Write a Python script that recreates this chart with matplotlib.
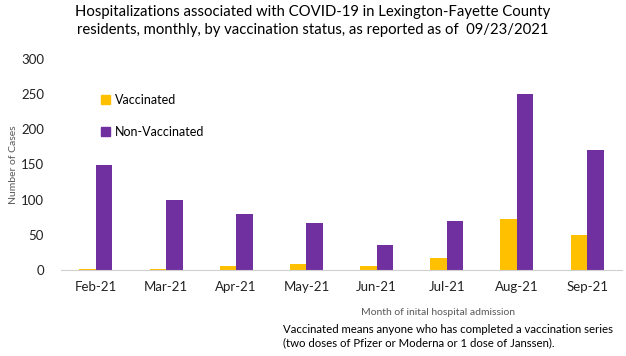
import numpy as np
import matplotlib.pyplot as plt
from matplotlib.patches import Patch

# Data
months = ['Feb-21', 'Mar-21', 'Apr-21', 'May-21', 'Jun-21', 'Jul-21', 'Aug-21', 'Sep-21']
vaccinated = [1, 1, 6, 9, 6, 17, 72, 49]
non_vaccinated = [149, 100, 79, 67, 35, 70, 250, 170]

plt.rcParams['font.family'] = ['Lato', 'DejaVu Sans']

fig = plt.figure(figsize=(6.26, 3.56), dpi=100)
ax = fig.add_axes([0.097, 0.242, 0.897, 0.592])

x = np.arange(len(months))
w = 0.235
ax.bar(x - w / 2, vaccinated, w, color='#FFC000')
ax.bar(x + w / 2, non_vaccinated, w, color='#7030A0')

ax.set_xlim(-0.5, len(months) - 0.5)
ax.set_ylim(0, 300)
ax.set_yticks(range(0, 301, 50))
ax.set_xticks(x)
ax.set_xticklabels(months)
ax.tick_params(length=0, labelsize=9.5, colors='#222222')
ax.tick_params(axis='y', pad=12)
ax.tick_params(axis='x', pad=8)
for s in ['top', 'right', 'left']:
    ax.spines[s].set_visible(False)
ax.spines['bottom'].set_color('#d0d0d0')

ax.set_ylabel('Number of Cases', fontsize=7.5, color='#595959', labelpad=2)

handles = [Patch(color='#FFC000', label='Vaccinated'),
           Patch(color='#7030A0', label='Non-Vaccinated')]
ax.legend(handles=handles, loc='upper left', bbox_to_anchor=(0.052, 0.89),
          frameon=False, fontsize=9, labelspacing=1.6, handlelength=0.7,
          handleheight=0.7, handletextpad=0.4)

fig.text(0.5, 0.94, 'Hospitalizations associated with COVID-19 in Lexington-Fayette County\n'
         'residents, monthly, by vaccination status, as reported as of  09/23/2021',
         ha='center', va='center', fontsize=10.7, linespacing=1.35)
fig.text(0.70, 0.123, 'Month of inital hospital admission', ha='center', va='center',
         fontsize=7.5, color='#595959')
fig.text(0.452, 0.055, 'Vaccinated means anyone who has completed a vaccination series\n'
         '(two doses of Pfizer or Moderna or 1 dose of Janssen).',
         ha='left', va='center', fontsize=8.2, linespacing=1.3)

fig.savefig('out.png', dpi=100)
